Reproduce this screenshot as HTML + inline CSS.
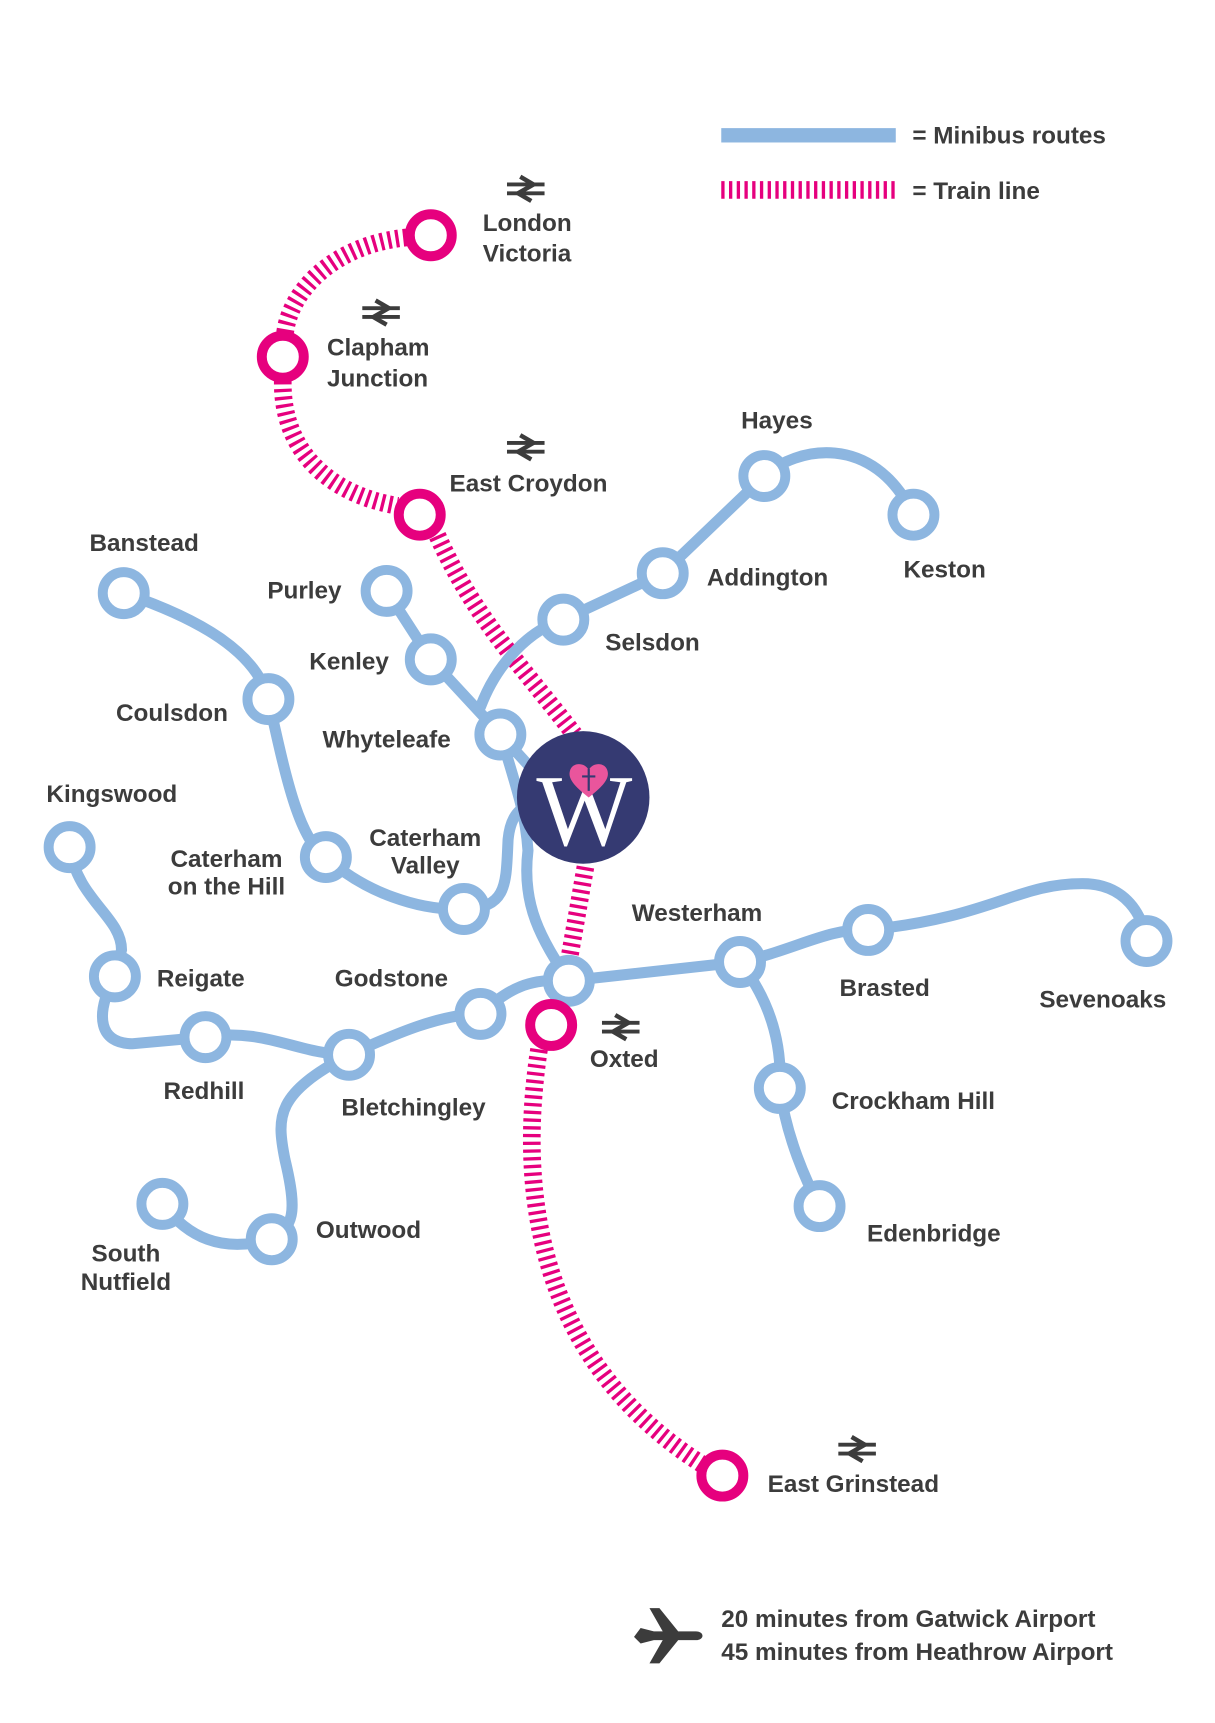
<!DOCTYPE html>
<html><head><meta charset="utf-8"><style>
html,body{margin:0;padding:0;background:#fff}
svg{display:block}
text{font-family:"Liberation Sans",sans-serif;font-weight:bold;font-size:22px;fill:#3c3c3c}
</style></head><body>
<svg width="1215" height="1723" viewBox="0 0 1100 1560" xmlns="http://www.w3.org/2000/svg">
<defs>
<g id="tr"><path d="M-17,-4H17M-17,4H17" stroke="#3c3c3c" stroke-width="3.5" fill="none"/><path d="M-5,-11L7,-4L-7,4L5,11" stroke="#3c3c3c" stroke-width="4" fill="none"/></g>
</defs>
<!-- legend -->
<rect x="653" y="116" width="158" height="13" fill="#8db6e0"/>
<line x1="653" y1="172" x2="811" y2="172" stroke="#e6007e" stroke-width="16" stroke-dasharray="3,4"/>
<text x="826" y="130">= Minibus routes</text>
<text x="826" y="180">= Train line</text>

<!-- train line -->
<g stroke="#e6007e" stroke-width="16" fill="none" stroke-dasharray="3,4">
<path d="M368,215 C300,222 262,265 258,302"/>
<path d="M256,345 C255,410 300,448 360,458"/>
<path d="M396,485 C430,560 470,600 520,665"/>
<path d="M530,785 L515,870"/>
<path d="M488,950 C465,1100 500,1240 636,1326"/>
</g>

<!-- blue routes -->
<g stroke="#8db6e0" stroke-width="10" fill="none" stroke-linecap="round">
<path d="M112,537 C180,560 232,590 243,633 C258,700 270,760 295,776 C330,808 380,825 420,823 C460,822 458,800 460,760 C462,740 470,732 478,730"/>
<path d="M350,535 L390,597 L453,665 L485,700"/>
<path d="M435,640 C450,600 480,570 510,561 L600,519 L692,431 C720,405 790,390 827,466"/>
<path d="M453,665 C470,720 476,740 478,770 C472,820 490,850 515,888"/>
<path d="M63,767 C70,815 110,830 110,860 L104,884 C85,920 90,945 120,945 L186,939 C240,930 270,955 316,955 C360,935 400,918 435,918 C460,895 480,885 515,888 L670,871 C720,860 750,840 786,842 C900,830 920,800 980,800 C1020,800 1035,830 1038,852"/>
<path d="M316,955 C250,990 250,1010 258,1050 C270,1100 265,1110 246,1122 C200,1135 170,1120 147,1090"/>
<path d="M670,871 C700,910 708,950 706,985 C712,1030 730,1070 742,1092"/>
</g>
<g stroke="#8db6e0" stroke-width="9" fill="#fff">
<circle cx="112" cy="537" r="19"/><circle cx="243" cy="633" r="19"/><circle cx="295" cy="776" r="19"/><circle cx="420" cy="823" r="19"/>
<circle cx="350" cy="535" r="19"/><circle cx="390" cy="597" r="19"/><circle cx="453" cy="665" r="19"/>
<circle cx="510" cy="561" r="19"/><circle cx="600" cy="519" r="19"/><circle cx="692" cy="431" r="19"/><circle cx="827" cy="466" r="19"/>
<circle cx="63" cy="767" r="19"/><circle cx="104" cy="884" r="19"/><circle cx="186" cy="939" r="19"/><circle cx="316" cy="955" r="19"/><circle cx="435" cy="918" r="19"/><circle cx="515" cy="888" r="19"/>
<circle cx="670" cy="871" r="19"/><circle cx="786" cy="842" r="19"/><circle cx="1038" cy="852" r="19"/>
<circle cx="706" cy="985" r="19"/><circle cx="742" cy="1092" r="19"/><circle cx="246" cy="1122" r="19"/><circle cx="147" cy="1090" r="19"/>
</g>
<g stroke="#e6007e" stroke-width="9" fill="#fff">
<circle cx="390" cy="213" r="19"/><circle cx="256" cy="323" r="19"/><circle cx="380" cy="466" r="19"/><circle cx="499" cy="928" r="19"/><circle cx="654" cy="1336" r="19"/>
</g>

<!-- logo -->
<circle cx="528" cy="722" r="60" fill="#353a72"/>
<text x="529" y="765" text-anchor="middle" style="font-family:'Liberation Serif',serif;font-weight:normal;font-size:92px;fill:#fff">W</text>
<path d="M533,722 C520,712 514,705 516,698 C518,690 529,690 533,697 C537,690 548,690 550,698 C552,705 546,712 533,722Z" fill="#e9559c"/>
<path d="M533,696V716M527,703H539" stroke="#353a72" stroke-width="2"/>

<!-- train symbols -->
<use href="#tr" x="476" y="171"/><use href="#tr" x="345" y="283"/><use href="#tr" x="476" y="405"/><use href="#tr" x="562" y="930"/><use href="#tr" x="776" y="1312"/>

<!-- labels -->
<text x="437" y="209">London</text><text x="437" y="237">Victoria</text>
<text x="296" y="322">Clapham</text><text x="296" y="350">Junction</text>
<text x="407" y="445">East Croydon</text>
<text x="671" y="388">Hayes</text>
<text x="818" y="523">Keston</text>
<text x="640" y="530">Addington</text>
<text x="548" y="589">Selsdon</text>
<text x="81" y="499">Banstead</text>
<text x="242" y="542">Purley</text>
<text x="280" y="606">Kenley</text>
<text x="105" y="653">Coulsdon</text>
<text x="292" y="677">Whyteleafe</text>
<text x="42" y="726">Kingswood</text>
<text x="385" y="766" text-anchor="middle">Caterham</text><text x="385" y="791" text-anchor="middle">Valley</text>
<text x="205" y="785" text-anchor="middle">Caterham</text><text x="205" y="810" text-anchor="middle">on the Hill</text>
<text x="572" y="834">Westerham</text>
<text x="142" y="893">Reigate</text>
<text x="303" y="893">Godstone</text>
<text x="760" y="902">Brasted</text>
<text x="941" y="912">Sevenoaks</text>
<text x="534" y="966">Oxted</text>
<text x="148" y="995">Redhill</text>
<text x="309" y="1010">Bletchingley</text>
<text x="753" y="1004">Crockham Hill</text>
<text x="286" y="1121">Outwood</text>
<text x="114" y="1142" text-anchor="middle">South</text><text x="114" y="1168" text-anchor="middle">Nutfield</text>
<text x="785" y="1124">Edenbridge</text>
<text x="695" y="1351">East Grinstead</text>
<text x="653" y="1473">20 minutes from Gatwick Airport</text>
<text x="653" y="1503">45 minutes from Heathrow Airport</text>

<!-- plane -->
<path d="M574,1482 L580,1474 L592,1477 L600,1477 L588,1456 L597,1456 L614,1477 L630,1477 C638,1477 638,1485 630,1485 L614,1485 L597,1506 L588,1506 L600,1485 L592,1485 L580,1488Z" fill="#3c3c3c"/>
</svg>
</body></html>
